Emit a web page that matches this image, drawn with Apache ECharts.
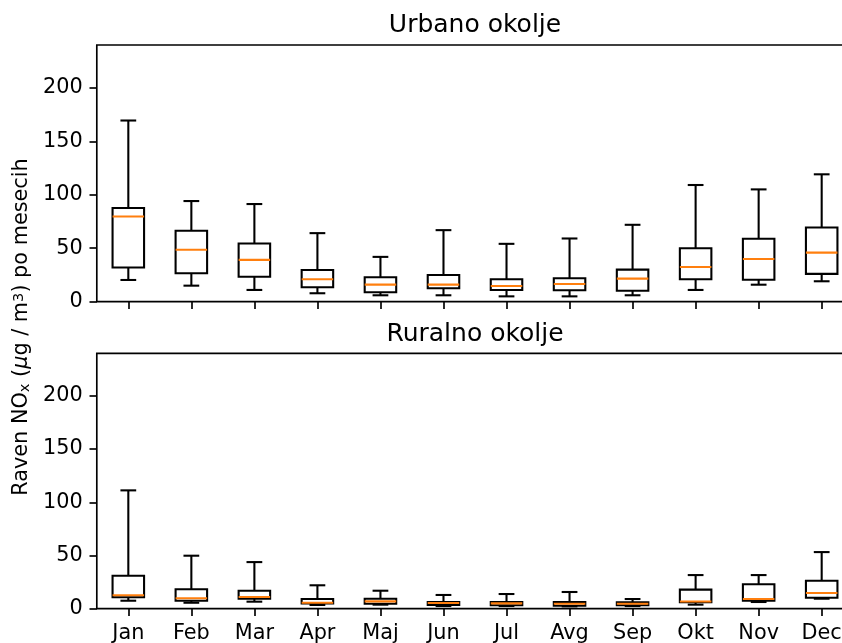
<!DOCTYPE html>
<html>
<head>
<meta charset="utf-8">
<script src="https://cdn.jsdelivr.net/npm/echarts@6/dist/echarts.min.js"></script>
<style>html,body{margin:0;padding:0;background:#fff;}#c{width:842px;height:643px;}</style>
</head>
<body>
<div id="c"></div>
<script>
const months = ['Jan','Feb','Mar','Apr','Maj','Jun','Jul','Avg','Sep','Okt','Nov','Dec'];
const yTicks = [0, 50, 100, 150, 200];

const urbanLow  = [20.3, 15.0, 11.0, 7.9, 6.0, 6.0, 5.0, 5.0, 6.0, 11.0, 15.9, 19.1];
const urbanQ1   = [31.9, 26.6, 23.4, 13.5, 8.8, 12.5, 11.0, 10.7, 10.3, 21.0, 20.6, 26.0];
const urbanMed  = [79.7, 48.5, 39.1, 21.0, 16.0, 16.0, 14.7, 16.6, 21.6, 32.5, 40.0, 45.9];
const urbanQ3   = [87.6, 66.3, 54.4, 29.7, 22.9, 25.0, 21.0, 21.9, 30.0, 50.0, 58.8, 69.4];
const urbanHigh = [169.4, 94.1, 91.3, 64.1, 41.9, 66.9, 54.1, 59.1, 71.9, 109.1, 105.0, 119.1];

const ruralLow  = [7.5, 5.6, 6.6, 3.5, 3.8, 2.5, 2.5, 2.2, 2.5, 3.8, 6.3, 9.4];
const ruralQ1   = [10.7, 7.5, 9.4, 5.0, 4.7, 3.5, 3.2, 2.8, 3.2, 6.0, 7.5, 10.3];
const ruralMed  = [12.6, 9.8, 11.0, 5.6, 6.9, 5.4, 5.0, 4.7, 4.7, 6.8, 9.1, 14.7];
const ruralQ3   = [31.0, 18.2, 16.9, 9.1, 9.4, 6.3, 6.3, 6.3, 6.0, 17.9, 22.9, 26.3];
const ruralHigh = [111.2, 49.8, 43.8, 22.0, 16.9, 12.9, 13.8, 15.7, 9.1, 31.6, 31.6, 53.2];

const FONT = 'DejaVu Sans';
const LW = 2.08;

function build(low, q1, med, q3, high) {
  return months.map((m, i) => [i, low[i], q1[i], med[i], q3[i], high[i]]);
}

function renderBox(params, api) {
  const x = api.value(0);
  const pLow = api.coord([x, api.value(1)]);
  const pQ1 = api.coord([x, api.value(2)]);
  const pMed = api.coord([x, api.value(3)]);
  const pQ3 = api.coord([x, api.value(4)]);
  const pHigh = api.coord([x, api.value(5)]);
  const bw = api.size([1, 0])[0];
  const half = bw * 0.25;
  const cap = bw * 0.125;
  const cx = pMed[0];
  const st = {stroke: '#000', lineWidth: LW, fill: null};
  return {
    type: 'group',
    children: [
      {type: 'line', shape: {x1: cx, y1: pQ1[1], x2: cx, y2: pLow[1]}, style: st},
      {type: 'line', shape: {x1: cx, y1: pQ3[1], x2: cx, y2: pHigh[1]}, style: st},
      {type: 'line', shape: {x1: cx - cap, y1: pLow[1], x2: cx + cap, y2: pLow[1]}, style: st},
      {type: 'line', shape: {x1: cx - cap, y1: pHigh[1], x2: cx + cap, y2: pHigh[1]}, style: st},
      {type: 'rect', shape: {x: cx - half, y: pQ3[1], width: 2 * half, height: pQ1[1] - pQ3[1]}, style: {stroke: '#000', lineWidth: LW, fill: 'none'}},
      {type: 'line', shape: {x1: cx - half, y1: pMed[1], x2: cx + half, y2: pMed[1]}, style: {stroke: '#ff7f0e', lineWidth: LW}}
    ]
  };
}

const chart = echarts.init(document.getElementById('c'), null, {renderer: 'canvas'});

function xAxisCfg(idx, showLabels) {
  return {
    type: 'category', gridIndex: idx, data: months, boundaryGap: true,
    axisLine: {show: false},
    axisTick: {show: true, alignWithLabel: true, length: 7.3, lineStyle: {color: '#000', width: 1.67}},
    axisLabel: {show: showLabels, color: '#000', fontSize: 20.8, fontFamily: FONT, margin: 14, interval: 0},
    splitLine: {show: false}
  };
}
function yAxisCfg(idx) {
  return {
    type: 'value', gridIndex: idx, min: 0, max: 240,
    axisLine: {show: false},
    axisTick: {show: true, customValues: yTicks, length: 7.3, lineStyle: {color: '#000', width: 1.67}},
    axisLabel: {show: true, customValues: yTicks, color: '#000', fontSize: 20.8, fontFamily: FONT, margin: 14},
    splitLine: {show: false}
  };
}

const gridBase = {left: 96.8, width: 756.4, show: true, borderColor: '#000', borderWidth: 1.67, backgroundColor: 'transparent', containLabel: false, outerBoundsMode: 'none'};

const option = {
  backgroundColor: '#fff',
  animation: false,
  grid: [
    Object.assign({}, gridBase, {top: 45, height: 256.7}),
    Object.assign({}, gridBase, {top: 353.3, height: 255.4})
  ],
  xAxis: [xAxisCfg(0, false), xAxisCfg(1, true)],
  yAxis: [yAxisCfg(0), yAxisCfg(1)],
  series: [
    {type: 'custom', name: 'Urbano okolje', xAxisIndex: 0, yAxisIndex: 0, data: build(urbanLow, urbanQ1, urbanMed, urbanQ3, urbanHigh), renderItem: renderBox, encode: {x: 0, y: [1, 2, 3, 4, 5]}},
    {type: 'custom', name: 'Ruralno okolje', xAxisIndex: 1, yAxisIndex: 1, data: build(ruralLow, ruralQ1, ruralMed, ruralQ3, ruralHigh), renderItem: renderBox, encode: {x: 0, y: [1, 2, 3, 4, 5]}}
  ],
  graphic: [
    {type: 'text', x: 475, y: 25, style: {text: 'Urbano okolje', fontSize: 25, fontFamily: FONT, fill: '#000', align: 'center', verticalAlign: 'middle'}},
    {type: 'text', x: 475, y: 334, style: {text: 'Ruralno okolje', fontSize: 25, fontFamily: FONT, fill: '#000', align: 'center', verticalAlign: 'middle'}},
    {type: 'text', x: 22, y: 327, rotation: Math.PI / 2,
     style: {
       text: '{n|Raven NO}{sub|x}{n| (}{it|μ}{n|g / m}{sup|3}{n|) po mesecih}',
       align: 'center', verticalAlign: 'middle', fill: '#000', fontFamily: FONT,
       rich: {
         n: {fontSize: 20.8, fontFamily: FONT, lineHeight: 21, fill: '#000'},
         it: {fontSize: 20.8, fontFamily: FONT, fontStyle: 'italic', lineHeight: 21, fill: '#000'},
         sub: {fontSize: 14.6, fontFamily: FONT, lineHeight: 8, verticalAlign: 'bottom', fill: '#000'},
         sup: {fontSize: 14.6, fontFamily: FONT, lineHeight: 6, verticalAlign: 'top', fill: '#000'}
       }
     }}
  ]
};
chart.setOption(option);
</script>
</body>
</html>
